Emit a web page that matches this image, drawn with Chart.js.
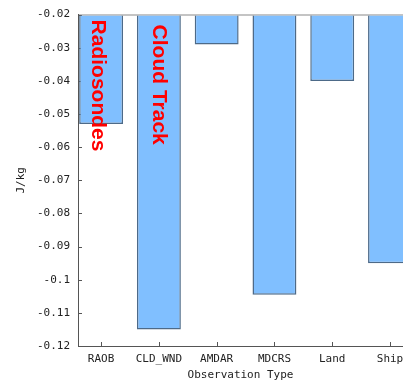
<!DOCTYPE html>
<html>
<head>
<meta charset="utf-8">
<script src="https://cdn.jsdelivr.net/npm/chart.js@4"></script>
<style>
  html, body { margin: 0; padding: 0; background: #fff; overflow: hidden; }
  #wrap { width: 403px; height: 382px; position: relative; }
</style>
</head>
<body>
<div id="wrap"><canvas id="c" width="403" height="382"></canvas></div>
<script>
// ---- data ----
const categories = ['RAOB', 'CLD_WND', 'AMDAR', 'MDCRS', 'Land', 'Ship'];
const impactValues = [-0.053, -0.115, -0.029, -0.1045, -0.040, -0.095];
const yTickValues = [-0.02, -0.03, -0.04, -0.05, -0.06, -0.07, -0.08, -0.09, -0.1, -0.11, -0.12];
const annotationTexts = ['Radiosondes', 'Cloud Track'];
const annotationIndex = [0, 1];
const barBase = -0.02;

const axisFont = { family: '"DejaVu Sans Mono", monospace', size: 11 };
const textColor = '#222';

const innerTicks = {
  id: 'innerTicks',
  beforeDatasetsDraw(chart) {
    const { ctx, scales: { x, y }, chartArea } = chart;
    ctx.save();
    ctx.strokeStyle = '#555';
    ctx.lineWidth = 1;
    ctx.beginPath();
    yTickValues.forEach(v => {
      const py = Math.round(y.getPixelForValue(v)) + 0.5;
      ctx.moveTo(chartArea.left, py);
      ctx.lineTo(chartArea.left + 4, py);
    });
    categories.forEach((c, i) => {
      const px = Math.round(x.getPixelForValue(i)) + 0.5;
      ctx.moveTo(px, chartArea.bottom);
      ctx.lineTo(px, chartArea.bottom - 4);
    });
    ctx.stroke();
    ctx.restore();
  }
};

const redLabels = {
  id: 'redLabels',
  afterDatasetsDraw(chart) {
    const { ctx, scales: { x, y } } = chart;
    ctx.save();
    ctx.fillStyle = '#ff0000';
    ctx.font = 'bold 21px "Liberation Sans", Arial, sans-serif';
    ctx.textAlign = 'left';
    ctx.textBaseline = 'middle';
    annotationTexts.forEach((t, k) => {
      const px = x.getPixelForValue(annotationIndex[k]) + (k === 0 ? -3 : 0);
      const py = y.getPixelForValue(barBase) + (k === 0 ? 5 : 10);
      ctx.save();
      ctx.translate(px, py);
      ctx.rotate(Math.PI / 2);
      ctx.fillText(t, 0, 0);
      ctx.restore();
    });
    ctx.restore();
  }
};

new Chart(document.getElementById('c'), {
  type: 'bar',
  data: {
    datasets: [{
      data: impactValues.map((v, i) => ({ x: i, y: v })),
      base: barBase,
      backgroundColor: '#80BFFF',
      borderColor: '#4d6a88',
      borderWidth: 1.5,
      borderSkipped: 'start',
      categoryPercentage: 1,
      barPercentage: 0.76
    }]
  },
  options: {
    responsive: false,
    animation: false,
    layout: { padding: { top: 11, left: 0, right: 0, bottom: 0 } },
    plugins: { legend: { display: false }, tooltip: { enabled: false } },
    scales: {
      x: {
        type: 'linear',
        offset: false,
        min: -0.4,
        max: 5.225,
        afterFit(s) { s.height = 36; s.paddingLeft = 0; s.paddingRight = 0; },
        grid: { display: false, drawTicks: false },
        border: { display: true, color: '#555', width: 1 },
        ticks: {
          stepSize: 1,
          includeBounds: false,
          autoSkip: false,
          maxRotation: 0,
          padding: 7,
          color: textColor,
          font: axisFont,
          callback: v => (Number.isInteger(v) && categories[v] !== undefined) ? categories[v] : ''
        },
        title: {
          display: true,
          text: 'Observation Type',
          color: textColor,
          font: axisFont,
          padding: { top: 0, bottom: 0 }
        }
      },
      y: {
        min: -0.12,
        max: -0.02,
        afterFit(s) { s.width = 78; },
        afterBuildTicks(s) { s.ticks = yTickValues.map(v => ({ value: v })); },
        grid: {
          drawTicks: false,
          color: c => (c.tick && Math.abs(c.tick.value - barBase) < 1e-9) ? '#c4c4c4' : 'rgba(0,0,0,0)',
          lineWidth: 2
        },
        border: { display: true, color: '#555', width: 1 },
        ticks: {
          padding: 8,
          color: textColor,
          font: axisFont,
          callback: v => String(parseFloat(Number(v).toFixed(3)))
        },
        title: {
          display: true,
          text: 'J/kg',
          color: textColor,
          font: axisFont,
          padding: { top: 15, bottom: 0 }
        }
      }
    }
  },
  plugins: [innerTicks, redLabels]
});
</script>
</body>
</html>
